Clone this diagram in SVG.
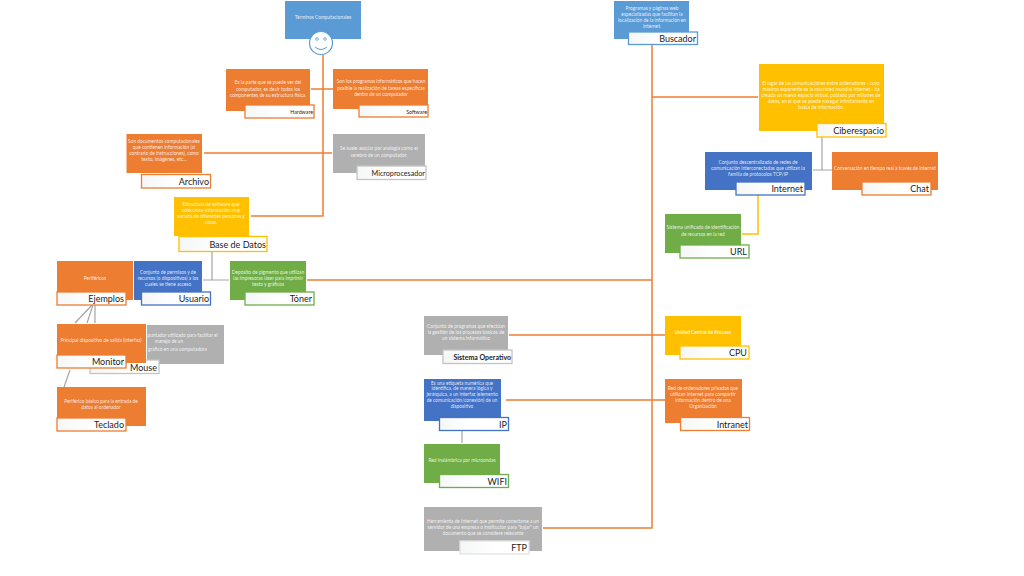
<svg xmlns="http://www.w3.org/2000/svg" width="1024" height="576" viewBox="0 0 1024 576">
<style>
text{font-family:Lato,"Liberation Sans",sans-serif}
.d{font-size:4.8px;fill:#fff;fill-opacity:.85;text-anchor:middle}
.l{font-size:9px;fill:#1c1c1c;text-anchor:end}
.s{font-size:5.3px}
.m{font-size:7.2px}
.n{font-size:7px;font-weight:700}
.or{stroke:#ed7d31;stroke-width:1.5;fill:none}
.gy{stroke:#a5a5a5;stroke-width:1.2;fill:none}
.ye{stroke:#ffc000;stroke-width:1.5;fill:none}
.fo{fill:#ed7d31}.fb{fill:#5b9bd5}.fd{fill:#4472c4}.fy{fill:#ffc000}.fg{fill:#b0b0b0}.fv{fill:#70ad47}
.b{fill:url(#w);stroke-width:1.3}
.so{stroke:#ed7d31}.sb{stroke:#5b9bd5}.sd{stroke:#4472c4}.sy{stroke:#ffc000}.sg{stroke:#c4c4c4}.sv{stroke:#70ad47}
</style>
<defs><linearGradient id="w" x1="0" x2="1" y1="0" y2="0"><stop offset="0" stop-color="#f5f6f6"/><stop offset=".5" stop-color="#fff"/></linearGradient></defs>
<rect width="1024" height="576" fill="#fff"/>
<g id="connectors">
<path class="or" d="M323 55V216H251M311 89H333M204 153H332M307 280H652M652 45V528H543M652 97H758M652 335H665M652 400H665M509 335H652M506 400H652"/>
<path class="gy" d="M212 252V280M203 280H229M92 305L75 323M93 305L87 323M95 305V323M70 370L64 387M462 431V443M822 137V170M813 170H832"/>
<path class="ye" d="M758 195V234H742"/>
</g>
<g id="terminos"><rect class="fb" x="285" y="1" width="76" height="38"/><text class="d" x="323" y="19">Términos Computacionales</text>
<circle cx="321" cy="43" r="11.500" fill="#fff" stroke="#5b9bd5" stroke-width="1.2"/><circle cx="317" cy="39" r="1.3" fill="#fff" stroke="#5b9bd5" stroke-width=".8"/><circle cx="325" cy="39" r="1.3" fill="#fff" stroke="#5b9bd5" stroke-width=".8"/><path d="M315 47Q321 52 327 47" fill="none" stroke="#5b9bd5" stroke-width="1"/></g>
<g id="hardware"><rect class="fo" x="226" y="69" width="84" height="42"/><text class="d" x="268" y="84">Es la parte que se puede ver del<tspan x="268" dy="6.500">computador, es decir todos los</tspan><tspan x="268" dy="6.500">componentes de su estructura física.</tspan></text><rect class="b so" x="245" y="105" width="69" height="13"/><text class="l s" x="313" y="114">Hardware</text></g>
<g id="software"><rect class="fo" x="333" y="69" width="95" height="40"/><text class="d" x="381" y="83">Son los programas informáticos que hacen<tspan x="381" dy="6.500">posible la realización de tareas específicas</tspan><tspan x="381" dy="6.500">dentro de un computador</tspan></text><rect class="b so" x="359" y="105" width="69" height="12"/><text class="l s" x="427" y="113.500">Software</text></g>
<g id="archivo"><rect class="fo" x="126.500" y="134" width="75.500" height="39"/><text class="d" x="164" y="143">Son documentos computacionales<tspan x="164" dy="6">que contienen información (al</tspan><tspan x="164" dy="6">contrario de instrucciones), como</tspan><tspan x="164" dy="6">texto, imágenes, etc...</tspan></text><rect class="b so" x="141.500" y="174.500" width="69" height="13.500"/><text class="l" x="209" y="185">Archivo</text></g>
<g id="microprocesador"><rect class="fg" x="333" y="134" width="92" height="39"/><text class="d" x="379" y="150">Se suele asociar por analogía como el<tspan x="379" dy="6.500">cerebro de un computador.</tspan></text><rect class="b sg" x="357" y="166" width="69" height="13.500"/><text class="l m" x="425" y="176">Microprocesador</text></g>
<g id="base-de-datos"><rect class="fy" x="174" y="197" width="75" height="39"/><text class="d" x="211" y="206">Estructura de software que<tspan x="211" dy="6">colecciona información muy</tspan><tspan x="211" dy="6">variada de diferentes personas y</tspan><tspan x="211" dy="6">cosas.</tspan></text><rect class="b sy" x="179" y="236.500" width="88" height="15"/><text class="l" x="266" y="247.500">Base de Datos</text></g>
<g id="ejemplos"><rect class="fo" x="57" y="261" width="76" height="39"/><text class="d" x="95" y="280">Periféricos</text><rect class="b so" x="57" y="292" width="69" height="13"/><text class="l" x="124" y="302">Ejemplos</text></g>
<g id="usuario"><rect class="fd" x="134" y="261" width="68" height="39"/><text class="d" x="168" y="274">Conjunto de permisos y de<tspan x="168" dy="6">recursos (o dispositivos) a los</tspan><tspan x="168" dy="6">cuales se tiene acceso</tspan></text><rect class="b sd" x="141.500" y="292" width="69" height="13"/><text class="l" x="209" y="302">Usuario</text></g>
<g id="toner"><rect class="fv" x="230" y="261" width="76" height="39"/><text class="d" x="268" y="274">Depósito de pigmento que utilizan<tspan x="268" dy="6">las impresoras láser para imprimir</tspan><tspan x="268" dy="6">texto y gráficos</tspan></text><rect class="b sv" x="245" y="292" width="69" height="13"/><text class="l" x="312" y="302">Tóner</text></g>
<g id="mouse"><rect class="fg" x="147" y="325" width="77" height="39"/><text class="d" x="181" y="337"><tspan x="181">Apuntador utilizado para facilitar el</tspan><tspan x="169" dy="6">manejo de un</tspan><tspan x="177.500" dy="8">gráfico en una computadora</tspan></text><rect class="b sg" x="90" y="360" width="69" height="13.500"/><text class="l" x="157" y="370.500">Mouse</text></g>
<g id="monitor"><rect class="fo" x="57" y="324" width="89" height="39"/><text class="d" x="101" y="342">Principal dispositivo de salida (interfaz)</text><rect class="b so" x="57" y="355" width="69" height="13"/><text class="l" x="124" y="365">Monitor</text></g>
<g id="teclado"><rect class="fo" x="57" y="387" width="89" height="39"/><text class="d" x="101" y="403">Periférico básico para la entrada de<tspan x="101" dy="6">datos al ordenador</tspan></text><rect class="b so" x="57" y="418" width="69" height="13"/><text class="l" x="124" y="428">Teclado</text></g>
<g id="buscador"><rect class="fb" x="614" y="1" width="75" height="38"/><text class="d" x="652" y="10">Programas y páginas web<tspan x="652" dy="6">especializadas que facilitan la</tspan><tspan x="652" dy="6">localización de la información en</tspan><tspan x="652" dy="6">Internet.</tspan></text><rect class="b sb" x="628.500" y="32" width="69" height="12.500"/><text class="l" x="696" y="41.500">Buscador</text></g>
<g id="ciberespacio"><rect class="fy" x="759" y="64" width="125" height="67"/><text class="d" x="821" y="85">El lugar de las comunicaciones entre ordenadores - cuyo<tspan x="821" dy="6">máximo exponente es la macrored mundial Internet - ha</tspan><tspan x="821" dy="6">creado un nuevo espacio virtual, poblado por millones de</tspan><tspan x="821" dy="6">datos, en el que se puede navegar infinitamente en</tspan><tspan x="821" dy="6">busca de información.</tspan></text><rect class="b sy" x="817" y="123.500" width="69" height="13.500"/><text class="l" x="884" y="133.500">Ciberespacio</text></g>
<g id="internet"><rect class="fd" x="705" y="152" width="107" height="38"/><text class="d" x="758" y="164">Conjunto descentralizado de redes de<tspan x="758" dy="6">comunicación interconectadas que utilizan la</tspan><tspan x="758" dy="6">familia de protocolos TCP/IP</tspan></text><rect class="b sd" x="736" y="182" width="69" height="13"/><text class="l" x="803" y="192">Internet</text></g>
<g id="chat"><rect class="fo" x="832" y="152" width="106" height="38"/><text class="d" x="885" y="170">Conversación en tiempo real a través de Internet</text><rect class="b so" x="862" y="182" width="69" height="13"/><text class="l" x="929" y="192">Chat</text></g>
<g id="url"><rect class="fv" x="665" y="214" width="76" height="39"/><text class="d" x="703" y="229">Sistema unificado de identificación<tspan x="703" dy="6.500">de recursos en la red</tspan></text><rect class="b sv" x="680" y="245" width="69" height="13"/><text class="l" x="747" y="255">URL</text></g>
<g id="cpu"><rect class="fy" x="665" y="316" width="76" height="39"/><text class="d" x="703" y="334" font-weight="700">Unidad Central de Proceso</text><rect class="b sy" x="680" y="346" width="69" height="13"/><text class="l" x="747" y="356">CPU</text></g>
<g id="intranet"><rect class="fo" x="665" y="379" width="77" height="44"/><text class="d" x="703" y="390">Red de ordenadores privados que<tspan x="703" dy="6">utilizan Internet para compartir</tspan><tspan x="703" dy="6">información dentro de una</tspan><tspan x="703" dy="6">Organización</tspan></text><rect class="b so" x="680.500" y="417.500" width="69" height="13"/><text class="l" x="748" y="427.500">Intranet</text></g>
<g id="sistema-operativo"><rect class="fg" x="424" y="316" width="84" height="39"/><text class="d" x="466" y="328">Conjunto de programas que efectúan<tspan x="466" dy="6">la gestión de los procesos básicos de</tspan><tspan x="466" dy="6">un sistema informático</tspan></text><rect class="b sg" x="443" y="350" width="69" height="13.500"/><text class="l n" x="511" y="360">Sistema Operativo</text></g>
<g id="ip"><rect class="fd" x="424" y="379" width="77" height="42"/><text class="d" x="462" y="384.500">Es una etiqueta numérica que<tspan x="462" dy="5.800">identifica, de manera lógica y</tspan><tspan x="462" dy="5.800">jerárquica, a un interfaz (elemento</tspan><tspan x="462" dy="5.800">de comunicación/conexión) de un</tspan><tspan x="462" dy="5.800">dispositivo</tspan></text><rect class="b sd" x="439.500" y="417.500" width="69" height="13"/><text class="l" x="507" y="427.500">IP</text></g>
<g id="wifi"><rect class="fv" x="424" y="444" width="76" height="39"/><text class="d" x="462" y="462">Red inalámbrica por microondas</text><rect class="b sv" x="439.500" y="474.500" width="69" height="13"/><text class="l" x="507" y="484.500">WIFI</text></g>
<g id="ftp"><rect class="fg" x="424" y="507" width="118" height="44"/><text class="d" x="483" y="523">Herramienta de Internet que permite conectarse a un<tspan x="483" dy="6">servidor de una empresa o institución para "bajar" un</tspan><tspan x="483" dy="6">documento que se considere relevante</tspan></text><rect class="b" style="stroke:#e4e4e4" x="460" y="541" width="69" height="13"/><text class="l" x="527" y="551">FTP</text></g>
</svg>
